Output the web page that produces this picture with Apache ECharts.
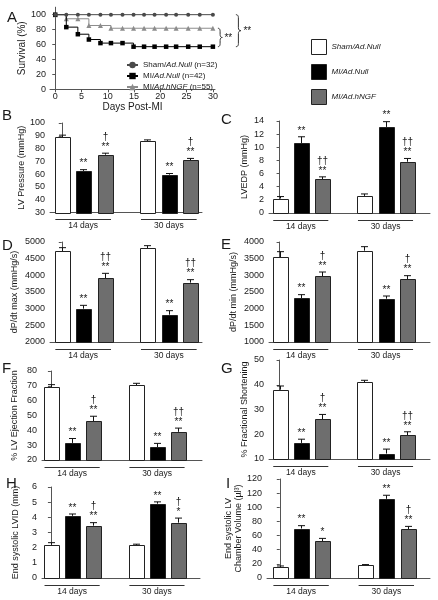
<!DOCTYPE html>
<html><head><meta charset="utf-8">
<script src="https://cdn.jsdelivr.net/npm/echarts@6/dist/echarts.min.js"></script>
<style>html,body{margin:0;padding:0;background:#fff}#c{width:438px;height:600px}</style>
</head><body><div id="c"></div>
<script>
// ---------- DATA ----------
const groupLabels = ['14 days', '30 days'];
const treatmentNames = ['Sham/Ad.Null', 'MI/Ad.Null', 'MI/Ad.hNGF'];

// Panel A: survival
const survivalDays = [0, 2.1, 4.3, 6.4, 8.6, 10.6, 12.8, 14.9, 16.9, 18.9, 21.1, 23.0, 25.3, 27.5, 30];
const survivalSham = [100, 100, 100, 100, 100, 100, 100, 100, 100, 100, 100, 100, 100, 100, 100];
const survivalMI = [100, 83.3, 73.8, 66.7, 61.9, 61.9, 61.9, 57.1, 57.1, 57.1, 57.1, 57.1, 57.1, 57.1, 57.1];
const survivalNGF = [100, 94.5, 94.5, 85.5, 85.5, 81.8, 81.8, 81.8, 81.8, 81.8, 81.8, 81.8, 81.8, 81.8, 81.8];
const survivalNames = ['Sham/Ad.Null (n=32)', 'MI/Ad.Null (n=42)', 'MI/Ad.hNGF (n=55)'];
const survivalTicksX = [0, 5, 10, 15, 20, 25, 30];
const survivalTicksY = [0, 20, 40, 60, 80, 100];

// bar panels: order = 14d Sham, MI, hNGF, 30d Sham, MI, hNGF
const lvpMean = [89, 62.5, 75.2, 86, 59.6, 71];
const lvpErr = [1.5, 1.0, 1.2, 0.8, 0.9, 1.3];
const lvpSig = ['', '**', '†\n**', '', '**', '†\n**'];

const lvedpMean = [2.2, 10.6, 5.1, 2.6, 13.1, 7.8];
const lvedpErr = [0.3, 1.0, 0.4, 0.3, 0.8, 0.5];
const lvedpSig = ['', '**', '††\n**', '', '**', '††\n**'];

const dpMaxMean = [4720, 3000, 3920, 4820, 2820, 3780];
const dpMaxErr = [110, 100, 140, 70, 120, 90];
const dpMaxSig = ['', '**', '††\n**', '', '**', '††\n**'];

const dpMinMean = [3540, 2320, 2980, 3740, 2300, 2880];
const dpMinErr = [170, 100, 120, 120, 80, 110];
const dpMinSig = ['', '**', '†\n**', '', '**', '†\n**'];

const efMean = [69, 31.5, 46, 70.5, 28.5, 39];
const efErr = [1.8, 3.0, 3.5, 1.2, 2.7, 2.5];
const efSig = ['', '**', '†\n**', '', '**', '††\n**'];

const fsMean = [38, 16.5, 26, 41, 12.2, 19.5];
const fsErr = [1.5, 1.5, 2.0, 0.8, 1.8, 1.5];
const fsSig = ['', '**', '†\n**', '', '**', '††\n**'];

const lvidMean = [2.2, 4.1, 3.45, 2.15, 4.9, 3.65];
const lvidErr = [0.13, 0.12, 0.2, 0.08, 0.12, 0.3];
const lvidSig = ['', '**', '†\n**', '', '**', '†\n*'];

const volMean = [16, 70, 52, 18, 112, 69];
const volErr = [1, 4, 4, 1, 5, 4];
const volSig = ['', '**', '*', '', '**', '†\n**'];
const volTickLabels = ['0', '20', '40', '60', '80', '100', '120', '120'];

// ---------- LAYOUT / STYLE ----------
const FONT = '"Liberation Sans", Arial, Helvetica, sans-serif';
const INK = '#1a1a1a';
const AXIS = '#555';
const barFill = ['#ffffff', '#000000', '#6e6e6e'];

const panels = [
  {mean: lvpMean, err: lvpErr, sig: lvpSig, name: 'LV Pressure (mmHg)', ymin: 30, ymax: 100, step: 10, L: 50, R: 202, T: 123, B: 212.5, xmin: -0.55, xmax: 6.55, gap: 18},
  {mean: lvedpMean, err: lvedpErr, sig: lvedpSig, name: 'LVEDP (mmHg)', ymin: 0, ymax: 14, step: 2, L: 269, R: 430, T: 121, B: 213, xmin: -0.5, xmax: 7.1, gap: 19},
  {mean: dpMaxMean, err: dpMaxErr, sig: dpMaxSig, name: 'dP/dt max (mmHg/s)', ymin: 2000, ymax: 5000, step: 500, L: 50, R: 202, T: 242, B: 342, xmin: -0.55, xmax: 6.55, gap: 30},
  {mean: dpMinMean, err: dpMinErr, sig: dpMinSig, name: 'dP/dt min (mmHg/s)', ymin: 1000, ymax: 4000, step: 500, L: 269, R: 430, T: 242, B: 342, xmin: -0.5, xmax: 7.1, gap: 30},
  {mean: efMean, err: efErr, sig: efSig, name: '% LV Ejection Fraction', ymin: 20, ymax: 80, step: 10, L: 42, R: 202, T: 371, B: 460, xmin: -0.42, xmax: 7.12, gap: 22},
  {mean: fsMean, err: fsErr, sig: fsSig, name: '% Fractional Shortening', ymin: 10, ymax: 50, step: 10, L: 269, R: 430, T: 360, B: 459, xmin: -0.5, xmax: 7.1, gap: 19},
  {mean: lvidMean, err: lvidErr, sig: lvidSig, name: 'End systolic LVID (mm)', ymin: 0, ymax: 6, step: 1, L: 42, R: 200, T: 487, B: 578, xmin: -0.42, xmax: 7.03, gap: 21},
  {mean: volMean, err: volErr, sig: volSig, name: 'End systolic LV\nChamber Volume (µl³)', ymin: 0, ymax: 140, step: 20, L: 267, R: 430, T: 479, B: 578, xmin: -0.6, xmax: 7.05, gap: 22, tickLabels: volTickLabels}
];

const letters = [
  ['A', 7, 10], ['B', 2, 108], ['C', 221, 112], ['D', 2, 238], ['E', 221, 237],
  ['F', 2, 361], ['G', 221, 361], ['H', 6, 476], ['I', 226, 476]
];

// ---------- BUILD ----------
const chart = echarts.init(document.getElementById('c'), null, {renderer: 'canvas'});
const italicRich = {i: {fontStyle: 'italic', fontSize: 8, fontFamily: FONT, color: INK}};
function richName(n) { return n.replace(/(Ad\.\w+)/, '{i|$1}'); }

const option = {
  animation: false,
  textStyle: {fontFamily: FONT, color: INK},
  grid: [], xAxis: [], yAxis: [], series: [],
  legend: [
    {
      orient: 'vertical', left: 126, top: 61, padding: 0, itemWidth: 11, itemHeight: 8, itemGap: 3,
      data: survivalNames, formatter: richName,
      textStyle: {fontSize: 8, color: INK, fontFamily: FONT, rich: italicRich}, selectedMode: false
    },
    {
      orient: 'vertical', left: 311, top: 39, padding: 0, itemWidth: 15, itemHeight: 15, itemGap: 9,
      data: treatmentNames.map((n, j) => ({name: n, icon: 'rect', itemStyle: {color: barFill[j], borderColor: '#222', borderWidth: 1}})),
      formatter: richName,
      textStyle: {fontSize: 8, color: INK, fontFamily: FONT, fontStyle: 'italic', rich: italicRich}, selectedMode: false
    }
  ]
};

// Panel A
option.grid.push({left: 50, top: 7.2, width: 165, height: 82.1});
option.xAxis.push({
  gridIndex: 0, type: 'value', min: -1, max: 30.4,
  axisLine: {lineStyle: {color: AXIS}},
  axisTick: {show: true, length: 3, customValues: survivalTicksX, lineStyle: {color: AXIS}},
  axisLabel: {customValues: survivalTicksX, fontSize: 9, margin: 3, color: INK},
  splitLine: {show: false},
  name: 'Days Post-MI', nameLocation: 'middle', nameGap: 12, nameTextStyle: {fontSize: 10, color: INK}
});
option.yAxis.push({
  gridIndex: 0, type: 'value', min: 0, max: 110,
  axisLine: {show: true, lineStyle: {color: AXIS}},
  axisTick: {show: true, length: 3, customValues: survivalTicksY, lineStyle: {color: AXIS}},
  axisLabel: {customValues: survivalTicksY, fontSize: 9, margin: 4, color: INK},
  splitLine: {show: false},
  name: 'Survival (%)', nameLocation: 'middle', nameGap: 13, nameTextStyle: {fontSize: 10, color: INK}
});
const survSets = [
  {data: survivalSham, color: '#4a4a4a', symbol: 'circle', size: 4},
  {data: survivalMI, color: '#000000', symbol: 'rect', size: 4.5},
  {data: survivalNGF, color: '#8c8c8c', symbol: 'triangle', size: 5}
];
survSets.forEach((s, j) => {
  option.series.push({
    type: 'line', name: survivalNames[j], xAxisIndex: 0, yAxisIndex: 0, step: 'end',
    data: survivalDays.map((d, i) => [d, s.data[i]]),
    symbol: s.symbol, symbolSize: s.size, showSymbol: true,
    lineStyle: {color: s.color, width: 1}, itemStyle: {color: s.color}, z: 3 - j
  });
});

// Bar panels
panels.forEach((p, pi) => {
  const gi = pi + 1;
  option.grid.push({left: p.L, top: p.T, width: p.R - p.L, height: p.B - p.T});
  option.xAxis.push({
    gridIndex: gi, type: 'value', min: p.xmin, max: p.xmax,
    axisLine: {lineStyle: {color: AXIS}},
    axisTick: {show: false},
    axisLabel: {customValues: [1, 5], formatter: v => groupLabels[v === 1 ? 0 : 1], fontSize: 8.5, margin: 9, color: INK},
    splitLine: {show: false}
  });
  const yAx = {
    gridIndex: gi, type: 'value', min: p.ymin, max: p.ymax, interval: p.step,
    axisLine: {show: true, lineStyle: {color: AXIS}},
    axisTick: {show: true, length: 3, lineStyle: {color: AXIS}},
    axisLabel: {fontSize: 9, margin: 5, color: INK, formatter: v => String(v)},
    splitLine: {show: false},
    name: p.name, nameLocation: 'middle', nameGap: p.gap,
    nameTextStyle: {fontSize: 9, color: INK, lineHeight: 10}
  };
  if (p.tickLabels) yAx.axisLabel.formatter = v => p.tickLabels[Math.round((v - p.ymin) / p.step)];
  option.yAxis.push(yAx);

  for (let j = 0; j < 3; j++) {
    const data = [];
    p.mean.forEach((m, k) => {
      if (k % 3 === j) {
        const slot = k < 3 ? k : k + 1;
        data.push([slot, m, p.err[k], k]);
      }
    });
    option.series.push({
      type: 'custom', name: treatmentNames[j], xAxisIndex: gi, yAxisIndex: gi, clip: false,
      itemStyle: {color: barFill[j], borderColor: '#222', borderWidth: 1},
      data: data,
      renderItem: (params, api) => {
        const slot = api.value(0), v = api.value(1), e = api.value(2), k = api.value(3);
        const top = api.coord([slot, v]);
        const bot = api.coord([slot, p.ymin]);
        const et = api.coord([slot, v + e]);
        const cx = Math.round(top[0]) + 0.5;
        const w = 15;
        const children = [
          {type: 'line', shape: {x1: cx, y1: top[1], x2: cx, y2: et[1]}, style: {stroke: '#111', lineWidth: 1}},
          {type: 'line', shape: {x1: cx - 3.5, y1: et[1], x2: cx + 3.5, y2: et[1]}, style: {stroke: '#111', lineWidth: 1}},
          {type: 'rect', shape: {x: Math.round(cx - w / 2) + 0.5, y: Math.round(top[1]) + 0.5, width: w, height: Math.round(bot[1]) - Math.round(top[1])},
            style: {fill: barFill[j], stroke: '#222', lineWidth: 1}}
        ];
        const s = p.sig[k];
        if (s) {
          children.push({type: 'text', style: {text: s, x: cx, y: et[1] - 1, align: 'center', verticalAlign: 'bottom',
            fontSize: 10, fontFamily: FONT, lineHeight: 10, fill: INK}});
        }
        return {type: 'group', children: children};
      }
    });
  }
  // group underlines
  option.series.push({
    type: 'custom', xAxisIndex: gi, yAxisIndex: gi, clip: false, silent: true,
    data: [[0], [1]],
    renderItem: (params, api) => {
      const g = api.value(0);
      const a = api.coord([g * 4 - 0.3, p.ymin]);
      const b = api.coord([g * 4 + 2.3, p.ymin]);
      const y = Math.round(a[1] + 6.5) + 0.5;
      return {type: 'line', shape: {x1: a[0], y1: y, x2: b[0], y2: y}, style: {stroke: '#333', lineWidth: 1}};
    }
  });
});

chart.setOption(option);

// annotations: brackets for survival significance + panel letters
function quad(p0, p1, p2, n, out) {
  for (let i = 1; i <= n; i++) {
    const t = i / n, u = 1 - t;
    out.push([u * u * p0[0] + 2 * u * t * p1[0] + t * t * p2[0], u * u * p0[1] + 2 * u * t * p1[1] + t * t * p2[1]]);
  }
}
function bracePoints(x, y1, y2, w) {
  const ym = (y1 + y2) / 2, r = 3, pts = [[x, y1]];
  quad([x, y1], [x + w, y1], [x + w, y1 + r], 5, pts);
  pts.push([x + w, ym - r]);
  quad([x + w, ym - r], [x + w, ym], [x + 2 * w, ym], 4, pts);
  quad([x + 2 * w, ym], [x + w, ym], [x + w, ym + r], 4, pts);
  pts.push([x + w, y2 - r]);
  quad([x + w, y2 - r], [x + w, y2], [x, y2], 5, pts);
  return pts;
}
const last = survivalDays.length - 1;
const pSham = chart.convertToPixel({gridIndex: 0}, [survivalDays[last], survivalSham[last]]);
const pMI = chart.convertToPixel({gridIndex: 0}, [survivalDays[last], survivalMI[last]]);
const pNGF = chart.convertToPixel({gridIndex: 0}, [survivalDays[last], survivalNGF[last]]);
const graphics = [];
const bx1 = pSham[0] + 5, bx2 = pSham[0] + 23;
graphics.push({type: 'polyline', shape: {points: bracePoints(bx1, pNGF[1], pMI[1], 2.2)}, style: {stroke: '#333', fill: null, lineWidth: 1}});
graphics.push({type: 'text', x: bx1 + 6.5, y: (pNGF[1] + pMI[1]) / 2 + 1, style: {text: '**', fontSize: 10, fontFamily: FONT, fill: INK, verticalAlign: 'middle'}});
graphics.push({type: 'polyline', shape: {points: bracePoints(bx2, pSham[1], pMI[1], 2.5)}, style: {stroke: '#333', fill: null, lineWidth: 1}});
graphics.push({type: 'text', x: bx2 + 7.5, y: (pSham[1] + pMI[1]) / 2 + 1, style: {text: '**', fontSize: 10, fontFamily: FONT, fill: INK, verticalAlign: 'middle'}});
letters.forEach(([t, x, y]) => {
  graphics.push({type: 'text', x: x, y: y, style: {text: t, fontSize: 15, fontFamily: FONT, fill: INK, verticalAlign: 'top', align: 'left'}});
});
chart.setOption({graphic: graphics});
</script>
</body></html>
